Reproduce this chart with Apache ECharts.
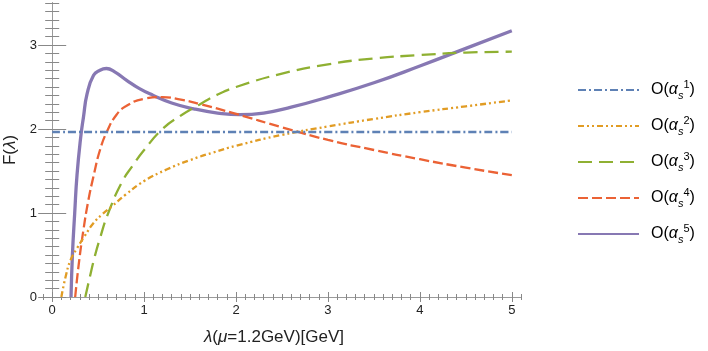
<!DOCTYPE html>
<html>

<head>
  <meta charset="utf-8" />
  <title>F(lambda)</title>
  <style>
    body { margin: 0; background: #fff; }
  </style>
  <script src="https://cdn.jsdelivr.net/npm/echarts@6/dist/echarts.min.js"></script>
</head>

<body>
  <div id="main" style="width: 708px;height:351px;"></div>
  <script type="text/javascript">
    // curve data
    var x1 = [0, 5];
    var y1 = [1.964, 1.964];

    var x2 = [0.1, 0.15, 0.2, 0.27, 0.35, 0.45, 0.55, 0.65, 0.8, 1.0, 1.25, 1.5, 1.75, 2.0, 2.5, 3.0, 3.5, 4.0, 4.5, 5.0];
    var y2 = [0, 0.26, 0.44, 0.58, 0.72, 0.88, 0.99, 1.08, 1.22, 1.38, 1.52, 1.63, 1.72, 1.80, 1.93, 2.03, 2.12, 2.20, 2.27, 2.34];

    var x3 = [0.36, 0.41, 0.46, 0.52, 0.61, 0.76, 0.88, 1.0, 1.2, 1.4, 1.6, 1.8, 2.0, 2.5, 3.0, 3.5, 4.0, 4.5, 5.0];
    var y3 = [0, 0.24, 0.47, 0.70, 1.0, 1.37, 1.57, 1.75, 2.0, 2.16, 2.29, 2.41, 2.50, 2.66, 2.77, 2.84, 2.88, 2.91, 2.92];

    var x4 = [0.25, 0.29, 0.34, 0.39, 0.45, 0.52, 0.6, 0.7, 0.8, 1.0, 1.2, 1.4, 1.6, 2.0, 2.5, 3.0, 3.5, 4.0, 4.5, 5.0];
    var y4 = [0, 0.40, 0.80, 1.13, 1.44, 1.75, 1.98, 2.17, 2.27, 2.36, 2.38, 2.35, 2.30, 2.18, 2.02, 1.87, 1.75, 1.64, 1.54, 1.45];

    var x5 = [0.205, 0.22, 0.245, 0.27, 0.31, 0.34, 0.38, 0.45, 0.52, 0.59, 0.68, 0.81, 0.95, 1.1, 1.3, 1.54, 1.8, 2.04, 2.3, 2.6, 3.0, 3.5, 4.0, 4.5, 5.0];
    var y5 = [0, 0.5, 1.0, 1.45, 1.9, 2.14, 2.42, 2.64, 2.70, 2.72, 2.68, 2.58, 2.48, 2.40, 2.31, 2.24, 2.19, 2.17, 2.19, 2.26, 2.38, 2.55, 2.75, 2.96, 3.17];

    var orders = ['1', '2', '3', '4', '5'];
    var xTickLabels = [0, 1, 2, 3, 4, 5];
    var yTickLabels = [0, 1, 2, 3];

    var colors = ['#5E81B5', '#E19C24', '#8FB032', '#EB6235', '#8778B3'];
    var dashes = [[8, 3, 2, 3], [6, 3, 2, 3, 2, 3], [14, 7], [10, 4], 'solid'];
    var widths = [2.3, 2.3, 2.3, 2.3, 3.3];

    function pairs(xs, ys) {
      var d = [];
      for (var i = 0; i < xs.length; i++) d.push([xs[i], ys[i]]);
      return d;
    }

    // minor tick positions every 0.1
    function minors(a, b) {
      var t = [];
      for (var i = Math.round(a * 10); i <= Math.round(b * 10); i++) {
        if (i % 10 !== 0) t.push(i / 10);
      }
      return t;
    }

    var myChart = echarts.init(document.getElementById('main'));
    var font = 'Liberation Sans, Arial, sans-serif';
    var frame = '#9a9a9a';

    function xAx(pos, ticks, len, withLabels) {
      return {
        type: 'value', position: pos, min: -0.1, max: 5.1,
        axisLine: { show: true, lineStyle: { color: frame, width: 1 } },
        axisTick: { show: true, inside: true, length: len, customValues: ticks, lineStyle: { color: '#888' } },
        axisLabel: withLabels ? { customValues: xTickLabels, color: '#222', fontSize: 13, fontFamily: font, margin: 7 } : { show: false },
        splitLine: { show: false }
      };
    }
    function yAx(pos, ticks, len, withLabels) {
      return {
        type: 'value', position: pos, min: 0, max: 3.5,
        axisLine: { show: true, lineStyle: { color: frame, width: 1 } },
        axisTick: { show: true, inside: true, length: len, customValues: ticks, lineStyle: { color: '#888' } },
        axisLabel: withLabels ? { customValues: yTickLabels, color: '#222', fontSize: 13, fontFamily: font, margin: 6 } : { show: false },
        splitLine: { show: false }
      };
    }

    var xs = [x1, x2, x3, x4, x5];
    var ys = [y1, y2, y3, y4, y5];
    var series = [];
    for (var k = 0; k < 5; k++) {
      series.push({
        name: 'O(as' + orders[k] + ')',
        type: 'line',
        data: pairs(xs[k], ys[k]),
        smooth: 0.5,
        symbol: 'none',
        color: colors[k],
        lineStyle: { color: colors[k], width: widths[k], type: dashes[k] },
        z: 10 - k
      });
    }

    var xAxes = [xAx('bottom', xTickLabels, 5, true), xAx('bottom', minors(-0.1, 5.1), 3, false),
                 xAx('top', xTickLabels, 5, false), xAx('top', minors(-0.1, 5.1), 3, false)];
    xAxes[0].name = '{i|λ}({i|μ}=1.2GeV)[GeV]';
    xAxes[0].nameLocation = 'middle';
    xAxes[0].nameGap = 32;
    xAxes[0].nameTextStyle = { fontSize: 17, fontFamily: font, color: '#222', padding: [0, 16, 0, 0],
      rich: { i: { fontSize: 17, fontFamily: font, fontStyle: 'italic', color: '#222' } } };

    var yAxes = [yAx('left', yTickLabels, 14, true), yAx('left', minors(0, 3.5), 7, false),
                 yAx('right', yTickLabels, 14, false), yAx('right', minors(0, 3.5), 7, false)];
    yAxes[0].name = 'F({i|λ})';
    yAxes[0].nameLocation = 'middle';
    yAxes[0].nameGap = 21;
    yAxes[0].nameTextStyle = { fontSize: 17, fontFamily: font, color: '#222',
      rich: { i: { fontSize: 17, fontFamily: font, fontStyle: 'italic', color: '#222' } } };

    var option = {
      animation: false,
      grid: { left: 43, right: 187, top: 3, bottom: 54, containLabel: false, outerBoundsMode: 'none' },
      xAxis: xAxes,
      yAxis: yAxes,
      legend: {
        orient: 'vertical',
        left: 577, top: 79, padding: 0,
        itemWidth: 61, itemHeight: 14, itemGap: 14,
        itemStyle: { opacity: 0 },
        formatter: function (name) {
          return '{n|O(}{a|α}{s|s}{p|' + name.charAt(4) + '}{n|)}';
        },
        textStyle: {
          color: '#000', fontFamily: font, fontSize: 16, padding: [0, 0, 0, 7],
          rich: {
            n: { fontSize: 16, fontFamily: font, color: '#000', lineHeight: 22 },
            a: { fontSize: 16, fontFamily: font, color: '#000', fontStyle: 'italic', lineHeight: 22 },
            s: { fontSize: 11, fontFamily: font, color: '#000', fontStyle: 'italic', lineHeight: 11, verticalAlign: 'bottom' },
            p: { fontSize: 11, fontFamily: font, color: '#000', lineHeight: 11, verticalAlign: 'top' }
          }
        }
      },
      series: series
    };
    myChart.setOption(option);
  </script>
</body>

</html>
